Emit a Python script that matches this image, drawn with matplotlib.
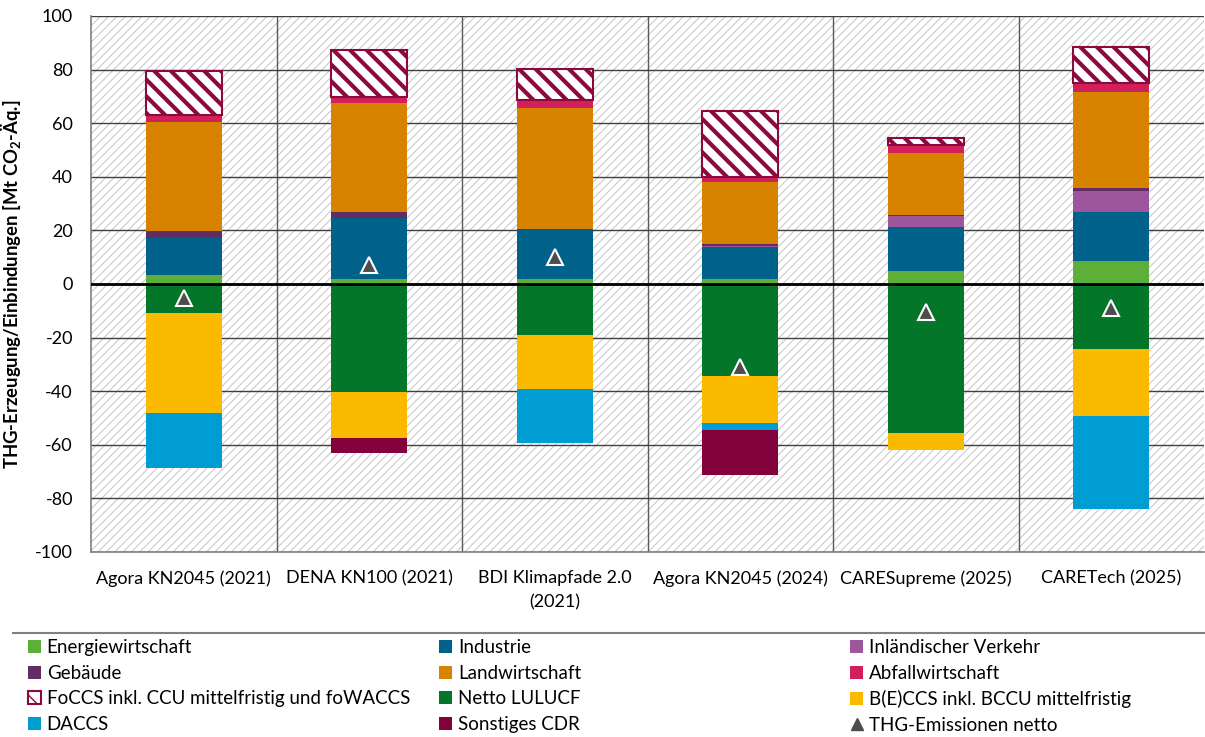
import matplotlib
matplotlib.use("Agg")
import matplotlib.pyplot as plt
from matplotlib.patches import Patch, Rectangle
from matplotlib.lines import Line2D
import numpy as np

plt.rcParams['font.family'] = ['Lato', 'DejaVu Sans']
plt.rcParams['mathtext.fontset'] = 'custom'
plt.rcParams['mathtext.rm'] = 'Lato'
plt.rcParams['mathtext.bf'] = 'Lato:bold'
plt.rcParams['axes.unicode_minus'] = False

# Szenarien
categories = ["Agora KN2045 (2021)", "DENA KN100 (2021)", "BDI Klimapfade 2.0\n(2021)",
              "Agora KN2045 (2024)", "CARESupreme (2025)", "CARETech (2025)"]

# Emissionen (positiv), Mt CO2-Äq.
energie = [3.3, 1.7, 1.7, 2.0, 5.0, 8.7]
industrie = [14.0, 23.0, 18.9, 11.7, 16.2, 18.3]
verkehr = [0.0, 0.0, 0.0, 0.6, 4.2, 7.7]
gebaeude = [2.6, 2.2, 0.0, 0.6, 0.5, 1.0]
landwirtschaft = [40.7, 40.8, 45.2, 23.2, 22.9, 36.1]
abfall = [2.5, 2.2, 2.9, 1.8, 2.9, 3.1]
foccs = [16.2, 17.4, 11.5, 24.7, 2.9, 13.4]

# Einbindungen (negativ)
lulucf = [-10.9, -40.4, -19.1, -34.3, -55.5, -24.1]
beccs = [-37.4, -16.9, -20.0, -17.7, -6.4, -25.0]
daccs = [-20.5, 0.0, -20.1, -2.5, 0.0, -34.7]
sonstiges = [0.0, -5.7, 0.0, -16.8, 0.0, 0.0]

# THG-Emissionen netto
netto = [-5.3, 7.1, 10.2, -31.1, -10.3, -8.8]

pos_series = [
    ("Energiewirtschaft", energie, "#5EAF37"),
    ("Industrie", industrie, "#00628A"),
    ("Inländischer Verkehr", verkehr, "#9D569C"),
    ("Gebäude", gebaeude, "#632C62"),
    ("Landwirtschaft", landwirtschaft, "#D88300"),
    ("Abfallwirtschaft", abfall, "#D2205B"),
]
neg_series = [
    ("Netto LULUCF", lulucf, "#037629"),
    ("B(E)CCS inkl. BCCU mittelfristig", beccs, "#FBBA00"),
    ("DACCS", daccs, "#009DD3"),
    ("Sonstiges CDR", sonstiges, "#84023C"),
]
hatch_col = "#8A0A3F"

fs = 13
fs_leg = 13.5
fig = plt.figure(figsize=(12.05, 7.37), dpi=100)
ax = fig.add_axes([91 / 1205, 1 - 552 / 737, 1113 / 1205, 536 / 737])

# hatched background of the plot area
with plt.rc_context({'hatch.linewidth': 0.7}):
    bg = Rectangle((0, 0), 1, 1, transform=ax.transAxes, facecolor='white',
                   edgecolor='#C4C4C4', hatch='////', lw=0, zorder=0)
    if hasattr(bg, 'set_hatch_linewidth'):
        bg.set_hatch_linewidth(0.7)
    ax.add_patch(bg)

x = np.arange(len(categories))
w = 0.41

bottom = np.zeros(len(x))
for name, vals, col in pos_series:
    ax.bar(x, vals, w, bottom=bottom, color=col, lw=0, zorder=3)
    bottom += np.array(vals)

with plt.rc_context({'hatch.linewidth': 3.0}):
    bars = ax.bar(x, foccs, w, bottom=bottom, facecolor='white', edgecolor=hatch_col,
                  hatch='\\\\', lw=1.5, zorder=3)
    for b in bars:
        if hasattr(b, 'set_hatch_linewidth'):
            b.set_hatch_linewidth(3.0)

bottom = np.zeros(len(x))
for name, vals, col in neg_series:
    ax.bar(x, vals, w, bottom=bottom, color=col, lw=0, zorder=3)
    bottom += np.array(vals)

ax.plot(x, netto, ls='none', marker='^', ms=12, mfc='#4D4D4D', mec='white', mew=1.5, zorder=5)

ax.axhline(0, color='black', lw=2, zorder=4)

ax.set_xlim(-0.5, len(categories) - 0.5)
ax.set_ylim(-100, 100)
ax.set_yticks(np.arange(-100, 101, 20))
ax.set_xticks(x)
ax.set_xticklabels(categories, fontsize=fs, linespacing=1.6)
ax.set_xticks(np.arange(0.5, len(categories) - 0.5, 1), minor=True)
ax.tick_params(axis='x', which='both', length=0, pad=13)
ax.tick_params(axis='y', length=0, pad=13, labelsize=fs)
ax.grid(axis='y', which='major', color='#404040', lw=1, zorder=1)
ax.grid(axis='x', which='minor', color='#595959', lw=1, zorder=1)
ax.set_axisbelow(True)
for s in ['top', 'right']:
    ax.spines[s].set_visible(False)
for s in ['left', 'bottom']:
    ax.spines[s].set_color('#7F7F7F')
    ax.spines[s].set_linewidth(1.2)

ax.set_ylabel("THG-Erzeugung/Einbindungen [Mt CO$_\\mathbf{2}$-Äq.]", fontsize=13.3,
              fontweight='bold', labelpad=9)

# line above legend
fig.add_artist(Line2D([13 / 1205, 1.0], [1 - 633 / 737] * 2, color='#808080', lw=1.5))

# legend in three fixed columns
h_energie = Patch(facecolor=pos_series[0][2], label=pos_series[0][0])
h_ind = Patch(facecolor=pos_series[1][2], label=pos_series[1][0])
h_verk = Patch(facecolor=pos_series[2][2], label=pos_series[2][0])
h_geb = Patch(facecolor=pos_series[3][2], label=pos_series[3][0])
h_land = Patch(facecolor=pos_series[4][2], label=pos_series[4][0])
h_abf = Patch(facecolor=pos_series[5][2], label=pos_series[5][0])
with plt.rc_context({'hatch.linewidth': 2.5}):
    h_fo = Patch(facecolor='white', edgecolor=hatch_col, hatch='\\\\', lw=1.5,
                 label="FoCCS inkl. CCU mittelfristig und foWACCS")
h_lul = Patch(facecolor=neg_series[0][2], label=neg_series[0][0])
h_bec = Patch(facecolor=neg_series[1][2], label=neg_series[1][0])
h_dac = Patch(facecolor=neg_series[2][2], label=neg_series[2][0])
h_son = Patch(facecolor=neg_series[3][2], label=neg_series[3][0])
h_net = Line2D([], [], ls='none', marker='^', ms=8, mfc='#4D4D4D', mec='#4D4D4D',
               label="THG-Emissionen netto")

columns = [
    ([h_energie, h_geb, h_fo, h_dac], 28),
    ([h_ind, h_land, h_lul, h_son], 439),
    ([h_verk, h_abf, h_bec, h_net], 850),
]
for handles, xpix in columns:
    fig.legend(handles=handles, loc='upper left', bbox_to_anchor=(xpix / 1205, 1 - 639 / 737),
               frameon=False, fontsize=fs_leg, borderpad=0, borderaxespad=0,
               handlelength=0.7, handleheight=0.7, handletextpad=0.3, labelspacing=0.46)

fig.savefig("out.png", dpi=100)
